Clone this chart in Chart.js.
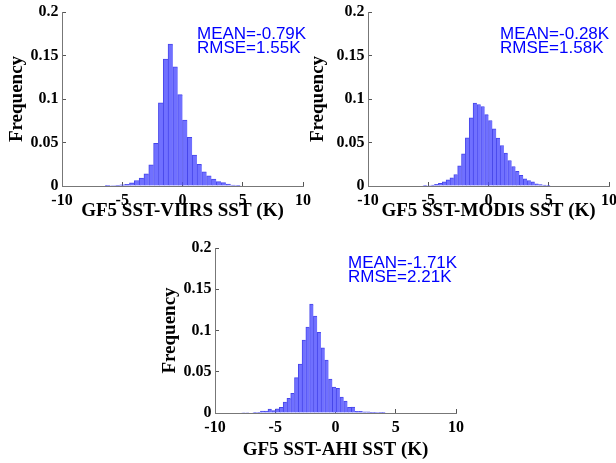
<!DOCTYPE html>
<html><head><meta charset="utf-8">
<script src="https://cdn.jsdelivr.net/npm/chart.js@4.4.1/dist/chart.umd.min.js"></script>
<style>
html,body{margin:0;padding:0;background:#fff;width:616px;height:463px;overflow:hidden;position:relative}
canvas{position:absolute}
</style></head><body>
<canvas id="c1" width="320" height="232" style="left:0px;top:0px"></canvas>
<canvas id="c2" width="316" height="232" style="left:300px;top:0px"></canvas>
<canvas id="c3" width="320" height="233" style="left:150px;top:230px"></canvas>
<script>
// ---- data ----
const xTickLabels = ['-10', '-5', '0', '5', '10'];
const yTickLabels = ['0', '0.05', '0.1', '0.15', '0.2'];

const viirsStart = -6.4, viirsWidth = 0.4;
const viirsFreq = [0.0003,0.0005,0.0008,0.0014,0.002,0.0037,0.0063,0.009,0.014,0.0244,0.049,0.0956,0.146,0.163,0.137,0.105,0.0759,0.056,0.0356,0.025,0.0164,0.0118,0.008,0.005,0.0038,0.0023,0.0011,0.0004];
const viirsStats = ['MEAN=-0.79K', 'RMSE=1.55K'];

const modisStart = -5.44, modisWidth = 0.32;
const modisFreq = [0.0004,0.0006,0.001,0.002,0.0032,0.0048,0.0071,0.0094,0.0132,0.0232,0.037,0.0554,0.0784,0.0952,0.0937,0.0914,0.082,0.0753,0.0657,0.055,0.0466,0.0377,0.0293,0.0224,0.017,0.0124,0.0083,0.0063,0.0048,0.0025,0.0017,0.001,0.0004];
const modisStats = ['MEAN=-0.28K', 'RMSE=1.58K'];

const ahiStart = -7.8, ahiWidth = 0.314;
const ahiFreq = [0.0006,0.0006,0,0.0003,0.0008,0.0024,0.0024,0.0048,0.0028,0.0052,0.0069,0.0133,0.0178,0.0238,0.0428,0.0594,0.0885,0.104,0.132,0.1176,0.0978,0.079,0.0642,0.0412,0.0315,0.03,0.0194,0.0145,0.0069,0.0073,0.002,0.002,0.0013,0.0013,0.0005,0.0004,0.0003,0.0002];
const ahiStats = ['MEAN=-1.71K', 'RMSE=2.21K'];

const xLabels = ['GF5 SST-VIIRS SST (K)', 'GF5 SST-MODIS SST (K)', 'GF5 SST-AHI SST (K)'];
const yLabel = 'Frequency';

// ---- helpers ----
function bins(start, width, freq) {
  return freq.map((f, i) => ({ x: start + width * (i + 0.5), y: f }));
}

const statsPlugin = {
  id: 'stats',
  afterDraw(chart, args, opts) {
    const ctx = chart.ctx;
    ctx.save();
    ctx.font = '17px "Liberation Sans", Arial, sans-serif';
    ctx.fillStyle = '#0000ff';
    ctx.textBaseline = 'alphabetic';
    ctx.textAlign = 'left';
    opts.lines.forEach((t, i) => ctx.fillText(t, chart.chartArea.left + opts.dx, chart.chartArea.top + opts.dy + i * opts.lh));
    ctx.restore();
  }
};

const serif = '"Liberation Serif", "Times New Roman", serif';
const axisColor = '#777777';

function make(id, start, width, freq, xLabel, stats, L) {
  new Chart(document.getElementById(id), {
    type: 'bar',
    data: {
      datasets: [{
        data: bins(start, width, freq),
        backgroundColor: 'rgb(112,112,255)',
        borderColor: 'rgb(70,70,235)',
        borderWidth: { left: 1, top: 1, right: 0, bottom: 0 },
        borderSkipped: false,
        barPercentage: 1,
        categoryPercentage: 1
      }]
    },
    options: {
      responsive: false,
      animation: false,
      devicePixelRatio: 1,
      layout: { padding: { left: 0, right: L.padRight, top: L.padTop, bottom: 0 } },
      plugins: {
        legend: { display: false },
        tooltip: { enabled: false },
        stats: { lines: stats, dx: L.sdx, dy: L.sdy, lh: 14 }
      },
      scales: {
        x: {
          type: 'linear',
          min: -10, max: 10,
          offset: false,
          grid: { display: true, drawOnChartArea: false, drawTicks: true, tickLength: -4, color: '#555', offset: false },
          border: { display: true, color: axisColor, width: 1 },
          ticks: {
            stepSize: 5, padding: 9.5, color: '#000', maxRotation: 0, autoSkip: false,
            font: { family: serif, weight: 'bold', size: 16 },
            callback: (v) => xTickLabels[Math.round((v + 10) / 5)]
          },
          title: { display: true, text: xLabel, color: '#000', padding: { top: 0, bottom: L.xtp },
                   font: { family: serif, weight: 'bold', size: 19 } },
          afterFit: (s) => { s.height = L.xh; s.paddingLeft = 0; s.paddingRight = 0; s.paddingTop = 0; s.paddingBottom = 0; }
        },
        y: {
          min: 0, max: 0.2,
          grid: { display: true, drawOnChartArea: false, drawTicks: true, tickLength: -4, color: '#555' },
          border: { display: true, color: axisColor, width: 1 },
          ticks: {
            stepSize: 0.05, padding: 7.5, color: '#000',
            font: { family: serif, weight: 'bold', size: 16 },
            callback: (v) => yTickLabels[Math.round(v / 0.05)]
          },
          title: { display: true, text: yLabel, color: '#000', padding: { top: L.ytp, bottom: 0 },
                   font: { family: serif, weight: 'bold', size: 19 } },
          afterFit: (s) => { s.width = L.yw; s.paddingLeft = 0; s.paddingRight = 0; s.paddingTop = 0; s.paddingBottom = 0; }
        }
      }
    },
    plugins: [statsPlugin]
  });
}

make('c1', viirsStart, viirsWidth, viirsFreq, xLabels[0], viirsStats,
  { padRight: 17, padTop: 12, xh: 46, yw: 62, xtp: 9.6, ytp: 5.6, sdx: 135, sdy: 27 });
make('c2', modisStart, modisWidth, modisFreq, xLabels[1], modisStats,
  { padRight: 7, padTop: 12, xh: 46, yw: 68, xtp: 9.6, ytp: 6.6, sdx: 132, sdy: 27 });
make('c3', ahiStart, ahiWidth, ahiFreq, xLabels[2], ahiStats,
  { padRight: 14, padTop: 18, xh: 50, yw: 65, xtp: 1.6, ytp: 8.6, sdx: 133, sdy: 20 });
</script>
</body></html>
